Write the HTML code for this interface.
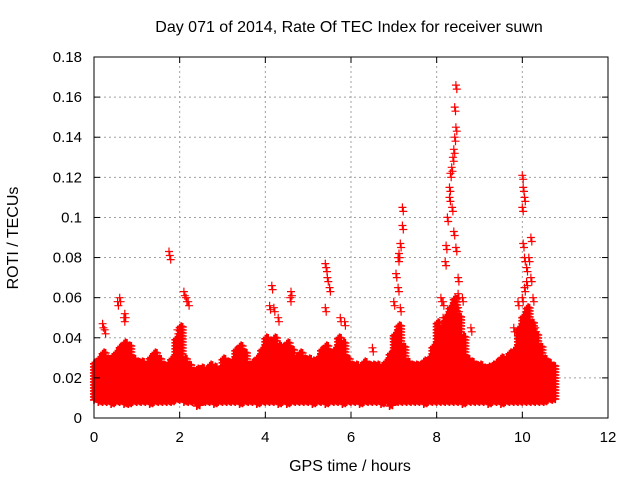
<!DOCTYPE html>
<html><head><meta charset="utf-8"><style>
body{margin:0;background:#fff;}
svg text{font-family:"Liberation Sans",sans-serif;font-size:15px;fill:#000;}
svg text.big{font-size:16px;}
</style></head><body>
<svg id="chart" width="640" height="480" viewBox="0 0 640 480" xmlns="http://www.w3.org/2000/svg">
<rect width="640" height="480" fill="#fff"/>
<text class="big" x="349" y="32" text-anchor="middle">Day 071 of 2014, Rate Of TEC Index for receiver suwn</text>
<text class="big" transform="translate(18,238) rotate(-90)" text-anchor="middle">ROTI / TECUs</text>
<text class="big" x="350" y="471" text-anchor="middle">GPS time / hours</text>
<g id="grid"></g>
<g id="marks"></g>
<rect x="94" y="57" width="514" height="361" fill="none" stroke="#000" stroke-width="1"/>
<g id="ticks"></g>
</svg>
<script>
const xTicks=[0,2,4,6,8,10,12];
const yTicks=[0,0.02,0.04,0.06,0.08,0.1,0.12,0.14,0.16,0.18];
const yTickLabels=["0","0.02","0.04","0.06","0.08","0.1","0.12","0.14","0.16","0.18"];
const bandTimes=[0,0.1,0.2,0.3,0.4,0.5,0.6,0.7,0.8,0.9,1,1.1,1.2,1.3,1.4,1.5,1.6,1.7,1.8,1.9,2,2.1,2.2,2.3,2.4,2.5,2.6,2.7,2.8,2.9,3,3.1,3.2,3.3,3.4,3.5,3.6,3.7,3.8,3.9,4,4.1,4.2,4.3,4.4,4.5,4.6,4.7,4.8,4.9,5,5.1,5.2,5.3,5.4,5.5,5.6,5.7,5.8,5.9,6,6.1,6.2,6.3,6.4,6.5,6.6,6.7,6.8,6.9,7,7.1,7.2,7.3,7.4,7.5,7.6,7.7,7.8,7.9,8,8.1,8.2,8.3,8.4,8.5,8.6,8.7,8.8,8.9,9,9.1,9.2,9.3,9.4,9.5,9.6,9.7,9.8,9.9,10,10.1,10.2,10.3,10.4,10.5,10.6,10.7];
const bandLow=[0.009,0.008,0.008,0.008,0.007,0.008,0.008,0.007,0.007,0.008,0.008,0.008,0.008,0.007,0.008,0.008,0.008,0.008,0.008,0.009,0.009,0.008,0.008,0.008,0.006,0.008,0.008,0.008,0.007,0.008,0.008,0.008,0.008,0.008,0.007,0.008,0.008,0.008,0.007,0.008,0.008,0.008,0.008,0.007,0.008,0.007,0.008,0.008,0.008,0.008,0.008,0.007,0.008,0.008,0.007,0.008,0.008,0.008,0.007,0.008,0.008,0.008,0.007,0.008,0.008,0.008,0.008,0.007,0.008,0.006,0.008,0.008,0.008,0.008,0.008,0.008,0.008,0.007,0.008,0.008,0.008,0.008,0.008,0.008,0.008,0.008,0.007,0.008,0.008,0.008,0.008,0.008,0.007,0.008,0.008,0.007,0.008,0.008,0.008,0.008,0.008,0.008,0.008,0.008,0.008,0.008,0.009,0.009];
const bandHigh=[0.028,0.03,0.032,0.03,0.03,0.032,0.036,0.038,0.036,0.03,0.028,0.028,0.027,0.03,0.033,0.03,0.026,0.026,0.03,0.04,0.045,0.03,0.026,0.024,0.024,0.025,0.024,0.027,0.025,0.024,0.03,0.028,0.028,0.034,0.036,0.032,0.026,0.028,0.03,0.034,0.04,0.038,0.04,0.036,0.035,0.038,0.034,0.03,0.032,0.03,0.03,0.028,0.03,0.034,0.036,0.032,0.034,0.04,0.038,0.03,0.027,0.026,0.026,0.028,0.027,0.026,0.027,0.026,0.028,0.032,0.042,0.046,0.036,0.028,0.027,0.026,0.027,0.028,0.03,0.035,0.048,0.045,0.05,0.055,0.06,0.05,0.04,0.03,0.028,0.026,0.026,0.025,0.026,0.027,0.028,0.03,0.03,0.032,0.034,0.045,0.05,0.055,0.048,0.042,0.035,0.03,0.028,0.026];
const spikeTimes=[0.6,0.55,0.7,0.72,0.2,0.25,1.75,1.77,2.1,2.15,2.2,1.95,4.15,4.1,4.2,4.6,4.58,4.3,5.4,5.42,5.45,5.5,5.4,5.75,5.85,7.1,7.12,7.2,7.2,7.15,7.05,7.1,7.0,7.15,8.15,8.2,8.22,8.25,8.3,8.3,8.32,8.35,8.38,8.4,8.42,8.45,8.42,8.45,8.36,8.4,8.45,8.5,8.5,8.6,8.5,8.1,8.15,10.0,10.02,10.05,10.0,10.02,10.05,10.1,10.1,10.2,10.15,10.2,10.25,10.05,9.9,10.0,10.3,9.8,8.8,6.5];
const spikeValues=[0.06,0.058,0.05,0.052,0.047,0.044,0.083,0.081,0.063,0.06,0.058,0.044,0.066,0.056,0.055,0.063,0.06,0.05,0.077,0.075,0.07,0.065,0.055,0.05,0.048,0.08,0.082,0.105,0.096,0.087,0.072,0.065,0.058,0.055,0.05,0.078,0.086,0.1,0.11,0.115,0.122,0.125,0.13,0.134,0.14,0.145,0.155,0.166,0.105,0.093,0.085,0.07,0.062,0.06,0.055,0.06,0.058,0.121,0.115,0.11,0.105,0.087,0.08,0.075,0.068,0.09,0.08,0.07,0.06,0.065,0.058,0.06,0.045,0.045,0.045,0.035];

const NS="http://www.w3.org/2000/svg";
const X0=94,X1=608,Y0=418,Y1=57;
const xs=t=>X0+(t/12)*(X1-X0);
const ys=v=>Y0-(v/0.18)*(Y0-Y1);
const grid=document.getElementById('grid'),ticks=document.getElementById('ticks'),marks=document.getElementById('marks');
function mk(tag,attrs,parent){const e=document.createElementNS(NS,tag);for(const k in attrs)e.setAttribute(k,attrs[k]);parent.appendChild(e);return e;}
xTicks.forEach((t,i)=>{
  const x=xs(t);
  if(i>0&&i<xTicks.length-1){const g=mk('line',{x1:x,y1:Y0,x2:x,y2:Y1,stroke:'#a0a0a0','stroke-dasharray':'2,3'},grid);
  
  }
  mk('line',{x1:x,y1:Y0,x2:x,y2:Y0-6,stroke:'#000'},ticks);
  mk('line',{x1:x,y1:Y1,x2:x,y2:Y1+6,stroke:'#000'},ticks);
  const tx=mk('text',{x:x,y:Y0+24,'text-anchor':'middle'},ticks);tx.textContent=t;
  
  
});
yTicks.forEach((v,i)=>{
  const y=ys(v);
  if(i>0&&i<yTicks.length-1){const g=mk('line',{x1:X0,y1:y,x2:X1,y2:y,stroke:'#a0a0a0','stroke-dasharray':'2,3'},grid);
  
  }
  mk('line',{x1:X0,y1:y,x2:X0+6,y2:y,stroke:'#000'},ticks);
  mk('line',{x1:X1,y1:y,x2:X1-6,y2:y,stroke:'#000'},ticks);
  const tx=mk('text',{x:X0-12,y:y+5,'text-anchor':'end'},ticks);tx.textContent=yTickLabels[i];
  
  
});
let d='',d2='';
function plus(t,v){const x=xs(t),y=ys(v);return `M${(x-4).toFixed(1)} ${y.toFixed(1)}h8M${x.toFixed(1)} ${(y-4).toFixed(1)}v8`;}
bandTimes.forEach((t,i)=>{
  for(let v=bandLow[i];v<=bandHigh[i]+1e-9;v+=0.0015){d+=plus(t,v);d+=plus(t+0.035,v+0.0007);d+=plus(t+0.07,v+0.0004);}
});
spikeTimes.forEach((t,i)=>{d2+=plus(t,spikeValues[i]);d2+=plus(t+0.02,spikeValues[i]-0.002);});
const p=mk('path',{d:d,stroke:'#ff0000','stroke-width':'1.6',fill:'none'},marks);


const p2=mk('path',{d:d2,stroke:'#ff0000','stroke-width':'1.2',fill:'none'},marks);


</script>
</body></html>
